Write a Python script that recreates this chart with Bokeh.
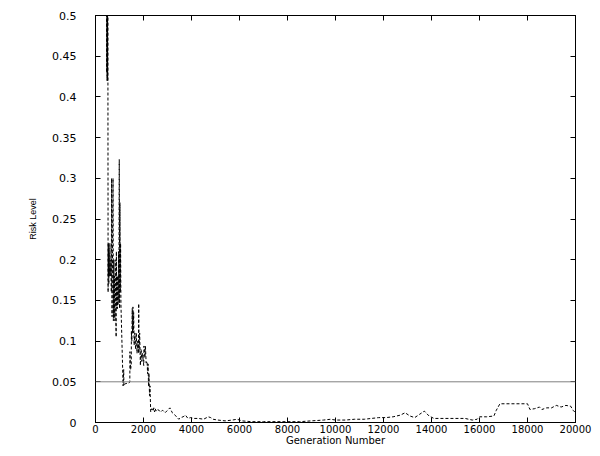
from bokeh.plotting import figure
from bokeh.models import Range1d, FixedTicker, LinearAxis, Span
from bokeh.embed import file_html
from bokeh.resources import INLINE

# ---- data ----
generation = [
    460, 470, 475, 482, 488, 494, 500, 506, 512, 518, 525, 530, 535, 540, 545,
    550, 555, 560, 580, 600, 620, 640, 660, 670, 690, 710, 730, 745, 760, 775,
    790, 805, 820, 840, 860, 870, 885, 900, 915, 930, 945, 960, 975, 990, 1005,
    1020, 1035, 1045, 1060, 1150, 1175, 1185, 1250, 1380, 1430, 1435, 1460, 1490, 1495, 1515,
    1530, 1545, 1560, 1575, 1590, 1610, 1640, 1670, 1700, 1730, 1760, 1790, 1800, 1815, 1840,
    1870, 1900, 1930, 1960, 2010, 2020, 2060, 2080, 2110, 2150, 2170, 2190, 2210, 2230, 2250,
    2270, 2300, 2350, 2400, 2430, 2460, 2490, 2520, 2560, 2650, 2700, 2800, 2900, 3000, 3100,
    3200, 3350, 3470, 3550, 3650, 3750, 3850, 3960, 4100, 4300, 4500, 4700, 4800, 4900, 5100,
    5400, 5700, 5900, 6100, 6500, 7000, 7500, 8000, 8500, 9000, 9500, 9800, 10000, 10400, 10800,
    11200, 11500, 11800, 12100, 12400, 12700, 12900, 13100, 13300, 13500, 13700, 13900, 14100, 14500, 15000,
    15400, 15700, 15900, 16000, 16300, 16600, 16700, 16850, 17500, 18000, 18100, 18300, 18500, 18600, 18800,
    19000, 19200, 19400, 19600, 19800, 19900, 20000,
]
risk_level = [
    0.60, 0.43, 0.58, 0.42, 0.56, 0.42, 0.55, 0.42, 0.52, 0.42, 0.16, 0.22, 0.18, 0.21, 0.18,
    0.22, 0.17, 0.21, 0.18, 0.22, 0.18, 0.20, 0.16, 0.30, 0.13, 0.21, 0.30, 0.125, 0.20, 0.13,
    0.18, 0.125, 0.20, 0.14, 0.105, 0.21, 0.14, 0.18, 0.14, 0.18, 0.145, 0.21, 0.15, 0.323, 0.14,
    0.27, 0.16, 0.22, 0.145, 0.045, 0.065, 0.045, 0.048, 0.048, 0.05, 0.087, 0.065, 0.07, 0.112, 0.10,
    0.14, 0.11, 0.142, 0.11, 0.135, 0.095, 0.11, 0.09, 0.11, 0.085, 0.10, 0.085, 0.146, 0.087, 0.11,
    0.07, 0.09, 0.075, 0.085, 0.07, 0.094, 0.08, 0.094, 0.073, 0.075, 0.06, 0.072, 0.045, 0.06, 0.033,
    0.045, 0.013, 0.017, 0.014, 0.018, 0.013, 0.017, 0.014, 0.016, 0.015, 0.013, 0.015, 0.012, 0.015, 0.018,
    0.012, 0.008, 0.004, 0.006, 0.007, 0.009, 0.005, 0.006, 0.005, 0.005, 0.004, 0.007, 0.006, 0.004, 0.003,
    0.002, 0.003, 0.004, 0.002, 0.001, 0.001, 0.001, 0.001, 0.001, 0.002, 0.003, 0.004, 0.003, 0.003, 0.004,
    0.004, 0.005, 0.006, 0.006, 0.007, 0.009, 0.012, 0.008, 0.006, 0.010, 0.014, 0.008, 0.005, 0.005, 0.005,
    0.005, 0.003, 0.004, 0.007, 0.007, 0.008, 0.015, 0.023, 0.023, 0.023, 0.016, 0.017, 0.019, 0.016, 0.018,
    0.018, 0.021, 0.019, 0.021, 0.020, 0.015, 0.012,
]
threshold = 0.05

x_ticks = [0, 2000, 4000, 6000, 8000, 10000, 12000, 14000, 16000, 18000, 20000]
x_tick_labels = ["0", "2000", "4000", "6000", "8000", "10000", "12000", "14000",
                 "16000", "18000", "20000"]
y_ticks = [0, 0.05, 0.1, 0.15, 0.2, 0.25, 0.3, 0.35, 0.4, 0.45, 0.5]
y_tick_labels = ["0", "0.05", "0.1", "0.15", "0.2", "0.25", "0.3", "0.35", "0.4",
                 "0.45", "0.5"]

FONT = "DejaVu Sans"

p = figure(width=592, height=448, output_backend="svg", toolbar_location=None,
           x_range=Range1d(0, 20000), y_range=Range1d(0, 0.5),
           min_border_left=95, min_border_right=17, min_border_top=15,
           min_border_bottom=25)
p.xgrid.visible = False
p.ygrid.visible = False
p.outline_line_color = "black"
p.outline_line_width = 1
p.background_fill_color = "white"
p.border_fill_color = "white"


def style_axis(ax, ticks, labels, show_labels=True):
    ax.ticker = FixedTicker(ticks=ticks)
    ax.major_tick_in = 5
    ax.major_tick_out = 0
    ax.minor_tick_line_color = None
    ax.axis_line_color = "black"
    ax.major_tick_line_color = "black"
    if show_labels:
        ax.major_label_overrides = {t: l for t, l in zip(ticks, labels)}
        ax.major_label_text_font = FONT
        ax.major_label_text_color = "black"
        ax.major_label_text_font_size = "11px"
    else:
        ax.major_label_text_color = None
        ax.major_label_standoff = 0


style_axis(p.xaxis[0], x_ticks, x_tick_labels)
style_axis(p.yaxis[0], y_ticks, y_tick_labels)
p.xaxis[0].major_label_text_font_size = "10px"
p.xaxis[0].major_label_standoff = 2
p.yaxis[0].major_label_standoff = 19

p.xaxis[0].axis_label = "Generation Number"
p.xaxis[0].axis_label_text_font = FONT
p.xaxis[0].axis_label_text_font_size = "10px"
p.xaxis[0].axis_label_text_font_style = "normal"
p.xaxis[0].axis_label_text_color = "black"
p.xaxis[0].axis_label_standoff = -1

p.yaxis[0].axis_label = "Risk Level"
p.yaxis[0].axis_label_text_font = "Liberation Sans"
p.yaxis[0].axis_label_text_font_size = "9px"
p.yaxis[0].axis_label_text_font_style = "normal"
p.yaxis[0].axis_label_text_color = "black"
p.yaxis[0].axis_label_standoff = 11

top_axis = LinearAxis()
style_axis(top_axis, x_ticks, x_tick_labels, show_labels=False)
p.add_layout(top_axis, "above")
right_axis = LinearAxis()
style_axis(right_axis, y_ticks, y_tick_labels, show_labels=False)
p.add_layout(right_axis, "right")

p.add_layout(Span(location=threshold, dimension="width", line_color="#808080",
                  line_width=1))

p.line(generation, risk_level, line_color="black", line_width=1, line_dash="3 2")

open("out.html", "w").write(file_html(p, INLINE))
